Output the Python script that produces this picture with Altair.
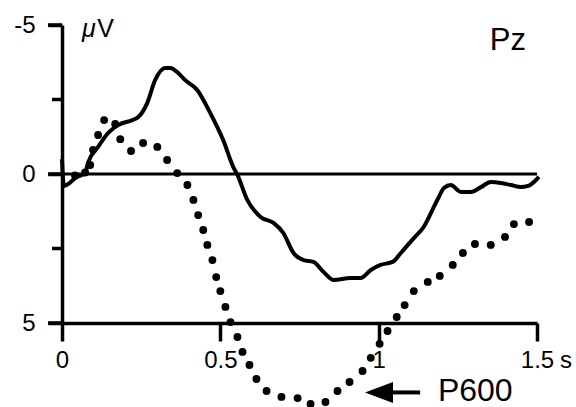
import altair as alt
import pandas as pd

# Solid waveform (time in s, amplitude in microvolts; negative up)
solid_t = [0.0, 0.006, 0.047, 0.073, 0.082, 0.114, 0.146, 0.177, 0.222, 0.241, 0.269, 0.294,
           0.326, 0.342, 0.367, 0.389, 0.427, 0.468, 0.509, 0.541, 0.554, 0.585, 0.627, 0.668,
           0.699, 0.731, 0.763, 0.794, 0.826, 0.858, 0.911, 0.943, 0.975, 1.006, 1.044, 1.070,
           1.111, 1.142, 1.165, 1.190, 1.206, 1.228, 1.259, 1.291, 1.323, 1.354, 1.386, 1.418,
           1.449, 1.472, 1.497, 1.506]
solid_v = [-0.5, 0.4, 0.1, -0.03, -0.37, -0.91, -1.38, -1.64, -1.81, -1.91, -2.38, -3.15,
           -3.56, -3.56, -3.39, -3.15, -2.82, -2.05, -1.14, -0.23, 0.03, 0.87, 1.44, 1.64,
           1.98, 2.65, 2.89, 2.95, 3.29, 3.56, 3.49, 3.49, 3.22, 3.05, 2.95, 2.65,
           2.15, 1.78, 1.31, 0.77, 0.47, 0.37, 0.60, 0.60, 0.44, 0.27, 0.30, 0.37,
           0.44, 0.40, 0.20, 0.10]

# Dotted waveform (one value per dot)
dotted_t = [0.041, 0.073, 0.089, 0.098, 0.114, 0.133, 0.168, 0.184, 0.218, 0.256, 0.301, 0.332,
            0.364, 0.396, 0.415, 0.430, 0.446, 0.459, 0.475, 0.487, 0.500, 0.516, 0.532,
            0.554, 0.570, 0.592, 0.614, 0.646, 0.693, 0.744, 0.785, 0.832, 0.870, 0.908,
            0.949, 0.975, 1.003, 1.028, 1.057, 1.082, 1.111, 1.155, 1.193, 1.234, 1.266,
            1.304, 1.354, 1.399, 1.427, 1.475]
dotted_v = [0.05, -0.05, -0.30, -0.81, -1.31, -1.81, -1.68, -1.17, -0.77, -1.04, -0.91, -0.47,
            -0.03, 0.37, 0.87, 1.38, 1.88, 2.38, 2.89, 3.46, 3.93, 4.46, 4.97,
            5.47, 5.97, 6.41, 6.88, 7.28, 7.48, 7.52, 7.72, 7.65, 7.28, 6.98,
            6.61, 6.17, 5.70, 5.27, 4.80, 4.40, 3.93, 3.62, 3.42, 3.05, 2.65,
            2.35, 2.38, 2.11, 1.68, 1.61]

x_ticks = [0, 0.5, 1, 1.5]
y_ticks = [-5, 0, 5]
y_minor = [-2.5, 2.5]

FONT = "Liberation Sans"
xs = alt.Scale(domain=[0, 1.5], nice=False, zero=False)
ys = alt.Scale(domain=[-5, 5], nice=False, zero=False, reverse=True)

x_axis = alt.Axis(
    values=x_ticks, format="~g", title=None, grid=False, tickSize=18, tickWidth=3.5,
    domainWidth=3.5, domainColor="black", tickColor="black", labelColor="black",
    labelFont=FONT, labelFontSize=24, labelPadding=7, labelFlush=False,
    labelOverlap=False, labelBound=False)
y_axis = alt.Axis(
    values=y_ticks, title=None, grid=False, tickSize=14, tickWidth=3.5,
    labelExpr="datum.value < 0 ? '-5' : (datum.value > 0 ? '5' : '0')",
    domainWidth=3.5, domainColor="black", tickColor="black", labelColor="black",
    labelFont=FONT, labelFontSize=24, labelPadding=13, labelFlush=False,
    labelOverlap=False, labelBound=False)


def X(field):
    return alt.X(field, scale=xs, axis=x_axis)


def Y(field):
    return alt.Y(field, scale=ys, axis=y_axis)


solid_df = pd.DataFrame({"t": solid_t, "v": solid_v})
dotted_df = pd.DataFrame({"t": dotted_t, "v": dotted_v})

solid = alt.Chart(solid_df).mark_line(color="black", strokeWidth=4, interpolate="monotone").encode(
    x=X("t:Q"), y=Y("v:Q"),
)

dots = alt.Chart(dotted_df).mark_point(filled=True, color="black", size=62, opacity=1, shape="circle").encode(
    x=X("t:Q"), y=Y("v:Q"),
)

zero_df = pd.DataFrame({"t": [0.0], "t1": [1.5], "v": [0.0]})
zero_line = alt.Chart(zero_df).mark_rule(color="black", strokeWidth=3).encode(
    x=X("t:Q"), x2="t1:Q", y=Y("v:Q"),
)

minor_df = pd.DataFrame({"v": y_minor})
minor = alt.Chart(minor_df).mark_rule(color="black", strokeWidth=3.5).encode(
    x=alt.value(-10), x2=alt.value(0), y=Y("v:Q"),
)

major_df = pd.DataFrame({"v": y_ticks})
major = alt.Chart(major_df).mark_rule(color="black", strokeWidth=3.5).encode(
    x=alt.value(-14), x2=alt.value(0), y=Y("v:Q"),
)


def label(text, t, v, size, align="left", style="normal"):
    df = pd.DataFrame({"t": [t], "v": [v], "txt": [text]})
    return alt.Chart(df).mark_text(
        font=FONT, fontSize=size, align=align, baseline="alphabetic",
        color="black", fontStyle=style,
    ).encode(x=X("t:Q"), y=Y("v:Q"), text="txt:N")


mu = label("μ", 0.063, -4.61, 25, style="italic")
volt = label("V", 0.111, -4.61, 25)
pz = label("Pz", 1.408, -4.16, 31, align="center")
p600 = label("P600", 1.187, 7.62, 32)
sec = label("s", 1.573, 6.51, 24)

arrow_df = pd.DataFrame({"t": [1.045], "t1": [1.131], "v": [7.33]})
shaft = alt.Chart(arrow_df).mark_rule(color="black", strokeWidth=4).encode(
    x=X("t:Q"), x2="t1:Q", y=Y("v:Q"),
)
head_df = pd.DataFrame({"t": [1.001], "v": [7.33]})
head = alt.Chart(head_df).mark_point(
    filled=True, color="black", opacity=1, size=784,
    shape="M -1 0 L 1 -0.75 L 1 0.75 Z",
).encode(x=X("t:Q"), y=Y("v:Q"))

chart = alt.layer(
    zero_line, minor, major, solid, dots, mu, volt, pz, p600, sec, shaft, head
).properties(
    width=475, height=298,
    autosize=alt.AutoSizeParams(type="none"),
    padding={"left": 62, "top": 25, "right": 39, "bottom": 84},
    background="white",
).configure_view(stroke=None)

chart.save("out.html", embed_options={"renderer": "svg", "actions": False})
